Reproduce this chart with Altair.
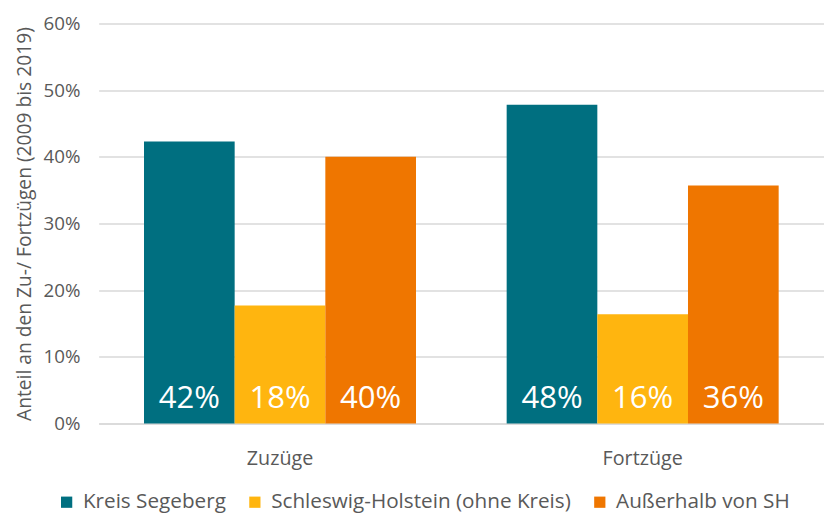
import altair as alt
import pandas as pd

categories = ["Zuzüge", "Fortzüge"]
series = ["Kreis Segeberg", "Schleswig-Holstein (ohne Kreis)", "Außerhalb von SH"]
colors = ["#006F80", "#FFB50F", "#EF7600"]
zuzuege = [42.3, 17.7, 40.0]
fortzuege = [47.8, 16.4, 35.7]

rows = []
for cat, vals in zip(categories, [zuzuege, fortzuege]):
    for s, v in zip(series, vals):
        rows.append({"Kategorie": cat, "Herkunft": s, "Anteil": v / 100})
df = pd.DataFrame(rows)

FONT = "Open Sans"
GREY = "#595959"

base = alt.Chart(df).encode(
    x=alt.X("Kategorie:N", sort=categories, title=None,
            scale=alt.Scale(paddingInner=0.25, paddingOuter=0.125),
            axis=alt.Axis(labelAngle=0, labelFontSize=20, labelColor=GREY, labelFont=FONT,
                          labelPadding=25, ticks=False, domainColor="#d9d9d9", domainWidth=1.5)),
    xOffset=alt.XOffset("Herkunft:N", sort=series),
)

bars = base.mark_bar().encode(
    y=alt.Y("Anteil:Q", scale=alt.Scale(domain=[0, 0.6]),
            title="Anteil an den Zu-/ Fortzügen (2009 bis 2019)",
            axis=alt.Axis(format=".0%", values=[0, 0.1, 0.2, 0.3, 0.4, 0.5, 0.6],
                          labelFontSize=19, labelColor=GREY, labelFont=FONT, labelPadding=19,
                          ticks=False, domain=False, gridColor="#d9d9d9", gridWidth=1.5,
                          titleFontSize=19.5, titleFont=FONT, titleColor=GREY,
                          titleFontWeight="normal", titlePadding=9)),
    color=alt.Color("Herkunft:N", sort=series,
                    scale=alt.Scale(domain=series, range=colors),
                    legend=alt.Legend(title=None, orient="none", direction="horizontal",
                                      legendX=-43, legendY=475, symbolType="square",
                                      symbolSize=130, symbolStrokeWidth=0, labelFontSize=21,
                                      labelFont=FONT, labelColor=GREY, columnPadding=18,
                                      labelOffset=6, labelLimit=400)),
)

labels = base.mark_text(color="white", fontSize=31.5, font=FONT, baseline="alphabetic",
                        dy=-16).encode(
    y=alt.datum(0),
    text=alt.Text("Anteil:Q", format=".0%"),
)

chart = alt.layer(bars, labels).properties(
    width=736, height=406,
    autosize=alt.AutoSizeParams(type="none"),
    padding={"left": 92, "top": 12, "right": 0, "bottom": 89},
).configure_view(stroke=None)

chart.save("out.html", embed_options={"renderer": "svg", "actions": False})
